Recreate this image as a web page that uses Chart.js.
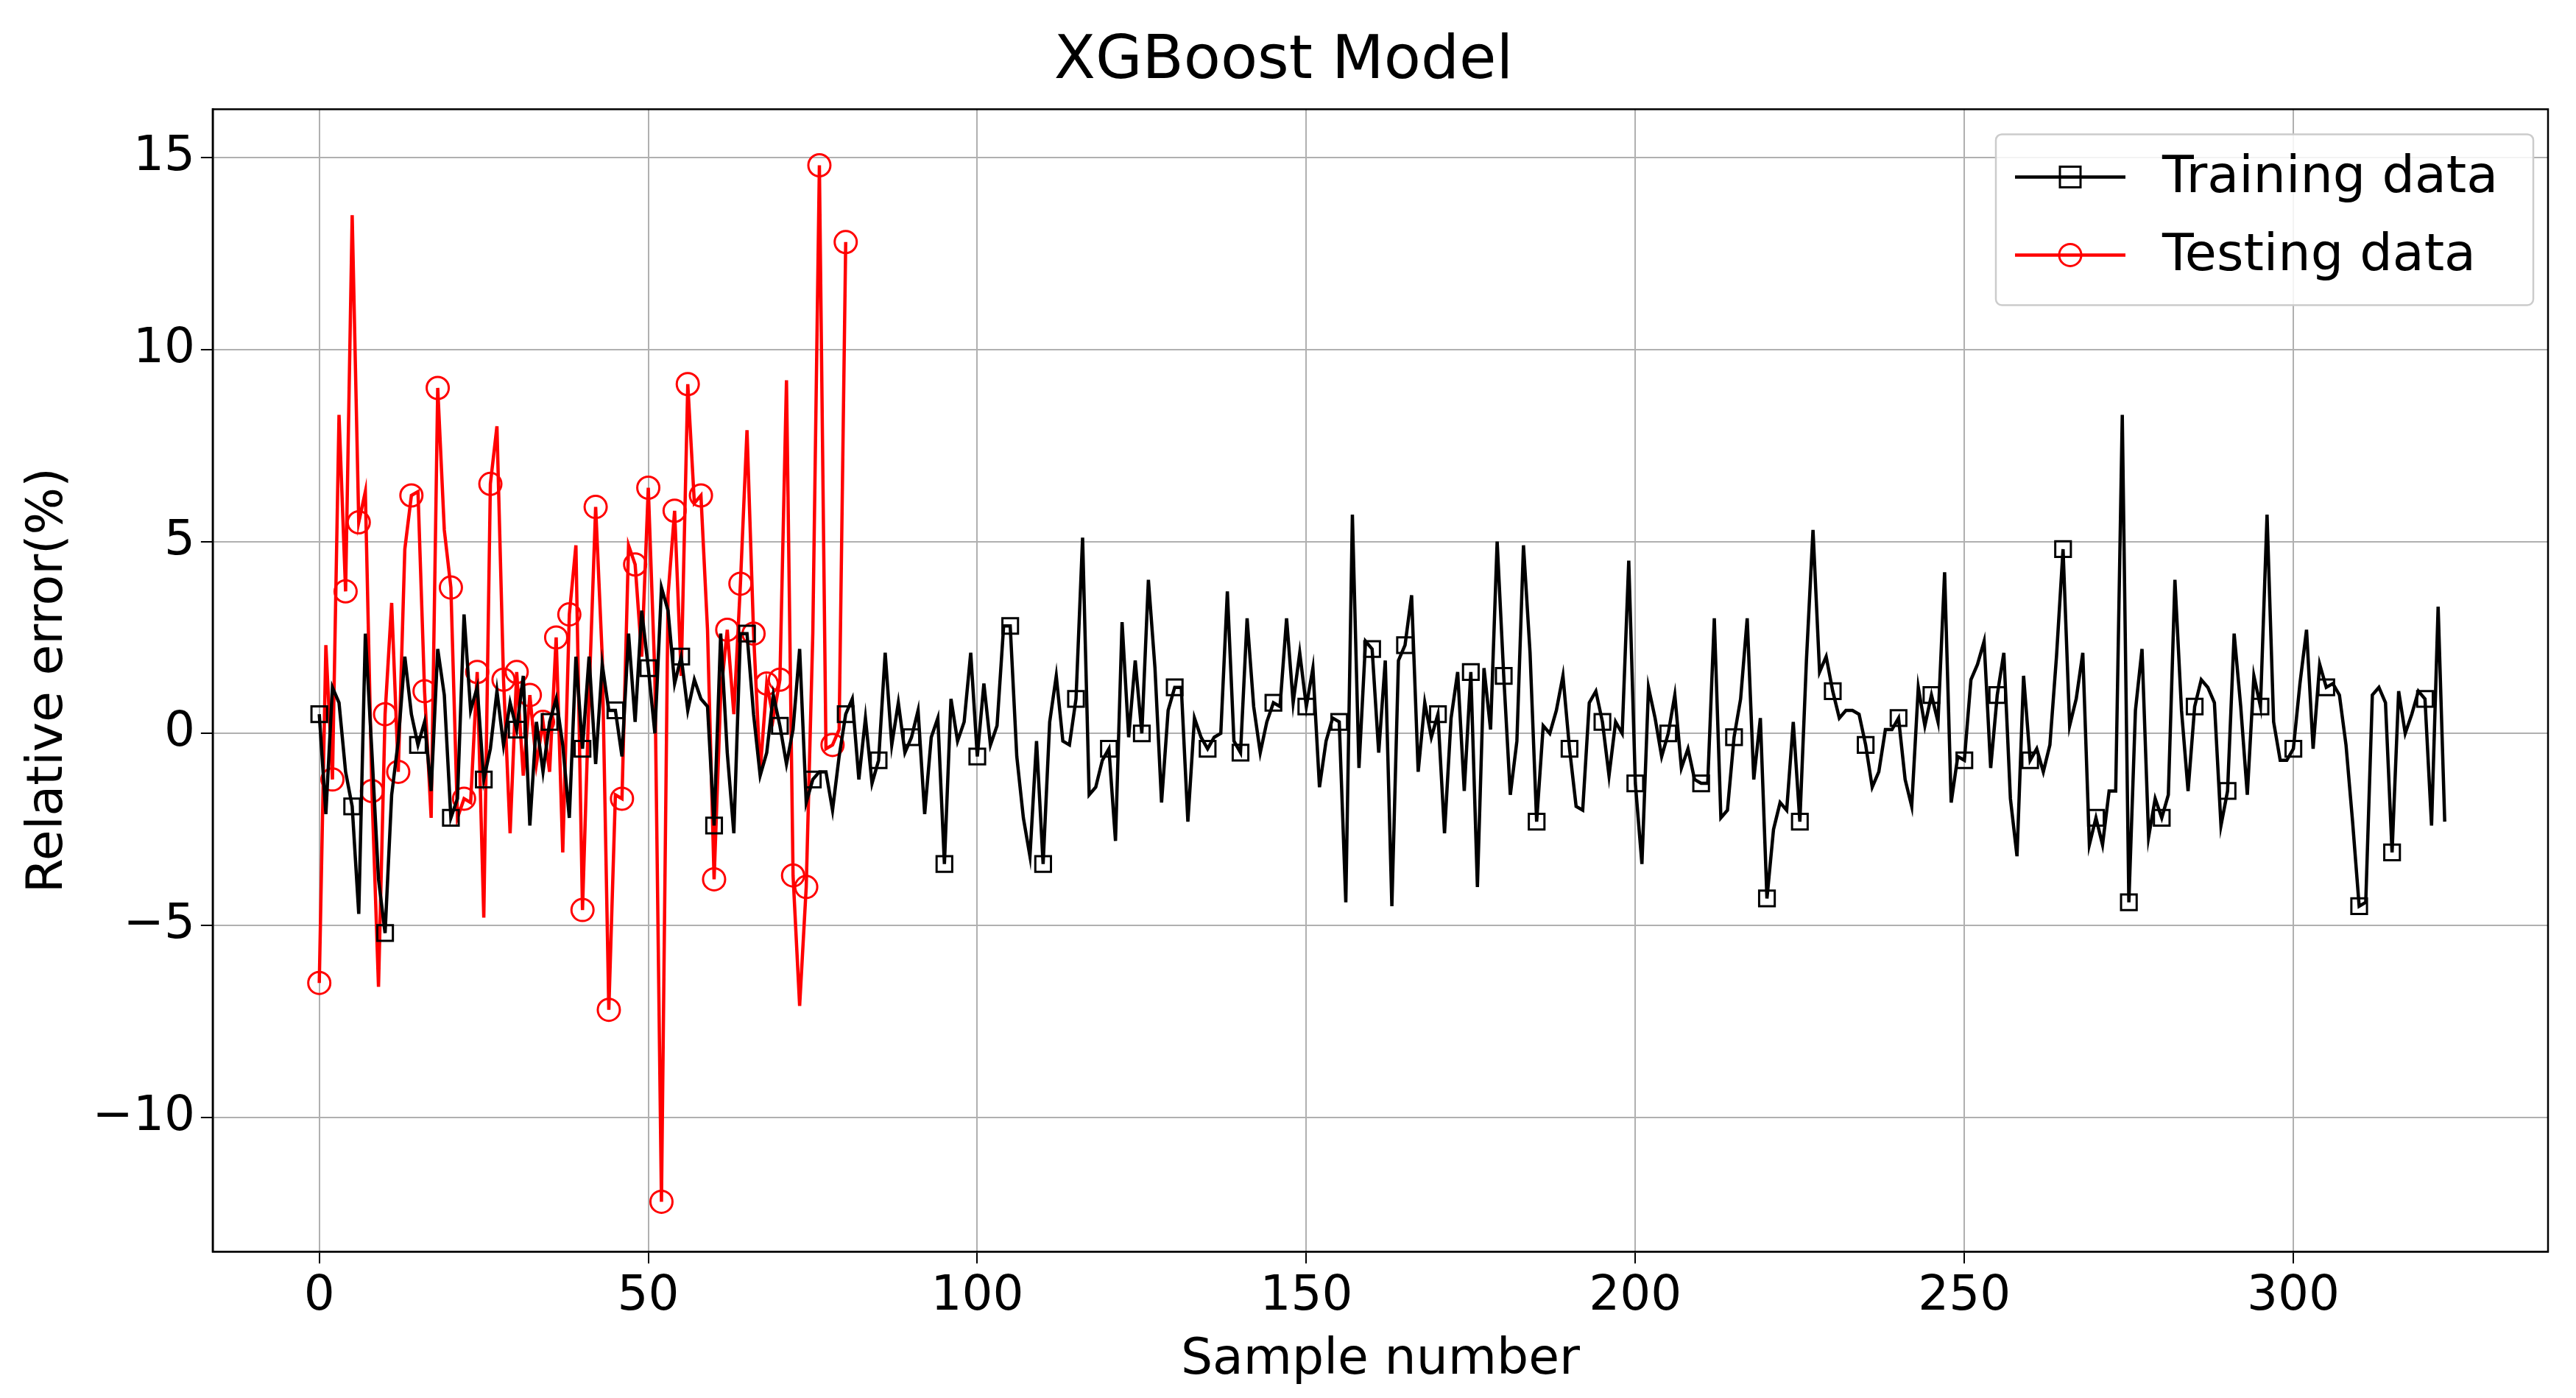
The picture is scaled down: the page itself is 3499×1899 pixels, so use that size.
<!DOCTYPE html>
<html><head><meta charset="utf-8">
<script src="https://cdn.jsdelivr.net/npm/chart.js@4/dist/chart.umd.min.js"></script>
<style>html,body{margin:0;padding:0;background:#fff}</style>
</head><body>
<canvas id="c" width="3499" height="1899"></canvas>
<script>
const trainValues = [
0.5,-2.1,1.2,0.8,-1.0,-1.9,-4.7,2.6,-0.5,-3.8,
-5.2,-1.6,-0.2,2.0,0.5,-0.3,0.3,-1.5,2.2,1.0,
-2.2,-1.7,3.1,0.6,1.2,-1.2,-0.4,1.1,-0.3,0.8,
0.1,1.5,-2.4,0.3,-1.0,0.3,0.9,-0.3,-2.2,2.0,
-0.4,2.0,-0.8,1.8,0.6,0.6,-0.6,2.6,0.3,3.2,
1.7,0.0,3.8,3.2,1.3,2.0,0.6,1.4,0.9,0.7,
-2.4,2.6,-0.5,-2.6,2.6,2.6,0.5,-1.1,-0.5,1.0,
0.2,-0.8,0.1,2.2,-1.8,-1.2,-1.0,-1.0,-2.0,-0.6,
0.5,0.9,-1.2,0.4,-1.3,-0.7,2.1,-0.3,0.8,-0.5,
-0.1,0.6,-2.1,-0.1,0.4,-3.4,0.9,-0.2,0.3,2.1,
-0.6,1.3,-0.3,0.2,2.8,2.8,-0.6,-2.2,-3.2,-0.2,
-3.4,0.3,1.5,-0.2,-0.3,0.9,5.1,-1.6,-1.4,-0.7,
-0.4,-2.8,2.9,-0.1,1.9,0.0,4.0,1.7,-1.8,0.6,
1.2,1.2,-2.3,0.4,-0.1,-0.4,-0.1,0.0,3.7,-0.2,
-0.5,3.0,0.7,-0.5,0.3,0.8,0.7,3.0,0.8,2.1,
0.7,1.7,-1.4,-0.2,0.4,0.3,-4.4,5.7,-0.9,2.4,
2.2,-0.5,1.9,-4.5,1.9,2.3,3.6,-1.0,0.8,-0.1,
0.5,-2.6,0.4,1.6,-1.5,1.6,-4.0,1.7,0.1,5.0,
1.5,-1.6,-0.2,4.9,2.1,-2.3,0.2,0.0,0.6,1.5,
-0.4,-1.9,-2.0,0.8,1.1,0.3,-1.1,0.3,0.0,4.5,
-1.3,-3.4,1.2,0.4,-0.6,0.0,1.0,-0.9,-0.4,-1.2,
-1.3,-1.3,3.0,-2.2,-2.0,-0.1,0.9,3.0,-1.2,0.4,
-4.3,-2.5,-1.8,-2.0,0.3,-2.3,1.9,5.3,1.6,2.0,
1.1,0.4,0.6,0.6,0.5,-0.3,-1.4,-1.0,0.1,0.1,
0.4,-1.2,-1.9,1.2,0.2,1.0,0.3,4.2,-1.8,-0.6,
-0.7,1.4,1.8,2.4,-0.9,1.0,2.1,-1.7,-3.2,1.5,
-0.7,-0.4,-1.0,-0.3,2.0,4.8,0.2,0.9,2.1,-2.9,
-2.2,-2.9,-1.5,-1.5,8.3,-4.4,0.6,2.2,-2.7,-1.7,
-2.2,-1.6,4.0,0.6,-1.5,0.7,1.4,1.2,0.8,-2.4,
-1.5,2.6,0.7,-1.6,1.5,0.7,5.7,0.3,-0.7,-0.7,
-0.4,1.3,2.7,-0.4,1.8,1.2,1.3,1.0,-0.3,-2.3,
-4.5,-4.4,1.0,1.2,0.8,-3.1,1.1,0.0,0.5,1.1,
0.9,-2.4,3.3,-2.3];
const testValues = [
-6.5,2.3,-1.2,8.3,3.7,13.5,5.5,6.3,-1.5,-6.6,
0.5,3.4,-1.0,4.8,6.2,6.3,1.1,-2.2,9.0,5.3,
3.8,-2.2,-1.7,-1.8,1.6,-4.8,6.5,8.0,1.4,-2.6,
1.6,-1.1,1.0,-0.8,0.3,-1.0,2.5,-3.1,3.1,4.9,
-4.6,1.0,5.9,2.0,-7.2,-1.6,-1.7,4.9,4.4,2.0,
6.4,1.5,-12.2,3.6,5.8,1.5,9.1,6.0,6.2,2.7,
-3.8,1.0,2.7,0.5,3.9,7.9,2.6,-1.0,1.3,0.4,
1.4,9.2,-3.7,-7.1,-4.0,2.6,14.8,-0.4,-0.3,0.1,
12.8];
const xTicks = [0,50,100,150,200,250,300];
const yTicks = [-10,-5,0,5,10,15];
const seriesNames = ['Training data','Testing data'];
const titleText = 'XGBoost Model';
const xLabel = 'Sample number';
const yLabel = 'Relative error(%)';

const FONT = "'DejaVu Sans', sans-serif";
const toPts = a => a.map((v,i)=>({x:i,y:v}));
const minus = v => String(v).replace('-', '\u2212');

const framePlugin = {
  id:'frame',
  afterDraw(chart){
    const {ctx, chartArea:a} = chart;
    ctx.save();
    ctx.strokeStyle='#000'; ctx.lineWidth=2.5;
    ctx.strokeRect(a.left,a.top,a.right-a.left,a.bottom-a.top);
    const bx=a.right-750, by=a.top+34, bw=730, bh=232;
    ctx.fillStyle='rgba(255,255,255,0.85)';
    ctx.strokeStyle='#ccc'; ctx.lineWidth=2.5;
    ctx.beginPath(); ctx.roundRect(bx,by,bw,bh,8); ctx.fill(); ctx.stroke();
    const cols=['#000','#ff0000'];
    ctx.font="70px "+FONT; ctx.textBaseline='middle';
    for(let i=0;i<2;i++){
      const y=by+58+i*106;
      ctx.strokeStyle=cols[i]; ctx.lineWidth=4.5;
      ctx.beginPath(); ctx.moveTo(bx+26,y); ctx.lineTo(bx+176,y); ctx.stroke();
      ctx.lineWidth=3;
      if(i===0){ ctx.strokeRect(bx+101-14,y-14,28,28); }
      else { ctx.beginPath(); ctx.arc(bx+101,y,15,0,Math.PI*2); ctx.stroke(); }
      ctx.fillStyle='#000'; ctx.fillText(seriesNames[i],bx+226,y+2);
    }
    ctx.restore();
  }
};

new Chart(document.getElementById('c'),{
  type:'scatter',
  data:{datasets:[
    {label:seriesNames[0],data:toPts(trainValues),showLine:true,borderColor:'#000',borderWidth:4.5,
     pointStyle:'rect',pointRadius:c=>c.dataIndex%5===0?15:0,pointBackgroundColor:'rgba(0,0,0,0)',pointBorderColor:'#000',pointBorderWidth:3,pointHoverRadius:0},
    {label:seriesNames[1],data:toPts(testValues),showLine:true,borderColor:'#ff0000',borderWidth:4.5,
     pointStyle:'circle',pointRadius:c=>c.dataIndex%2===0?15:0,pointBackgroundColor:'rgba(0,0,0,0)',pointBorderColor:'#ff0000',pointBorderWidth:3,pointHoverRadius:0}
  ]},
  options:{
    responsive:false,animation:false,devicePixelRatio:1,
    layout:{padding:{left:26,right:38,top:0,bottom:10}},
    plugins:{
      legend:{display:false},tooltip:{enabled:false},
      title:{display:true,text:titleText,color:'#000',font:{family:FONT,size:82,weight:'normal'},padding:{top:36,bottom:14}}
    },
    scales:{
      x:{type:'linear',min:-16.2,max:338.7,
        afterBuildTicks:ax=>{ax.ticks=xTicks.map(v=>({value:v}));},
        ticks:{color:'#000',font:{family:FONT,size:66},callback:v=>minus(v),padding:6,maxRotation:0},
        grid:{color:'#b0b0b0',lineWidth:2,tickLength:16,tickColor:'#000'},
        border:{color:'#000',width:2.5},
        title:{display:true,text:xLabel,color:'#000',font:{family:FONT,size:68},padding:{top:0,bottom:0}}},
      y:{min:-13.5,max:16.26,
        afterBuildTicks:ax=>{ax.ticks=yTicks.map(v=>({value:v}));},
        ticks:{color:'#000',font:{family:FONT,size:66},callback:v=>minus(v),padding:8},
        grid:{color:'#b0b0b0',lineWidth:2,tickLength:16,tickColor:'#000'},
        border:{color:'#000',width:2.5},
        title:{display:true,text:yLabel,color:'#000',font:{family:FONT,size:68},padding:{top:0,bottom:10}}}
    }
  },
  plugins:[framePlugin]
});
</script>
</body></html>
